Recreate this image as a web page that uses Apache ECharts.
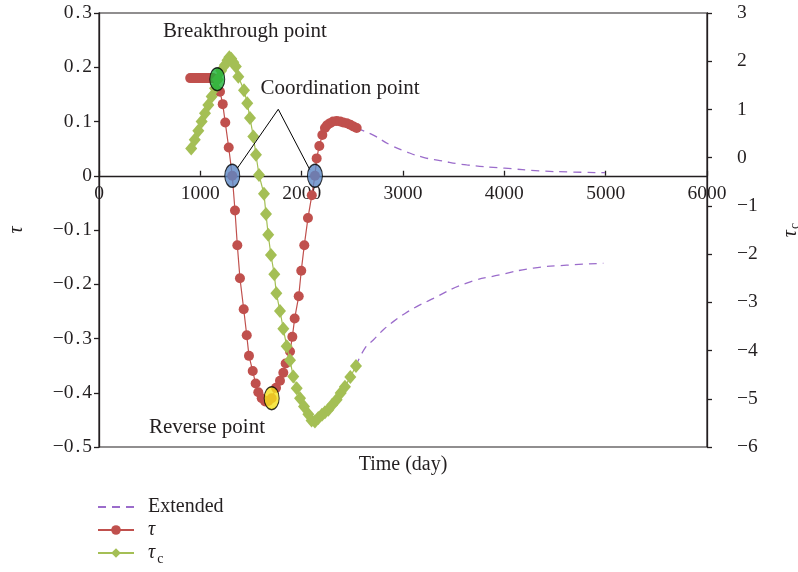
<!DOCTYPE html>
<html>
<head>
<meta charset="utf-8">
<script src="https://cdn.jsdelivr.net/npm/echarts@6/dist/echarts.min.js"></script>
<style>html,body{margin:0;padding:0;background:#fff}#c{width:798px;height:572px}</style>
</head>
<body>
<div id="c"></div>
<script>
// ---- data (time in days) ----
const tauData = [
  [900,0.180],[920,0.180],[940,0.180],[960,0.180],[980,0.180],[1000,0.180],[1020,0.180],
  [1040,0.180],[1060,0.180],[1080,0.180],[1100,0.180],[1120,0.180],[1140,0.179],[1167,0.178],
  [1194,0.155],[1221,0.132],[1246,0.098],[1280,0.052],[1315,0.000],[1342,-0.064],[1365,-0.128],
  [1391,-0.189],[1428,-0.246],[1458,-0.294],[1480,-0.332],[1517,-0.360],[1546,-0.383],[1572,-0.399],
  [1606,-0.410],[1640,-0.416],[1670,-0.415],[1704,-0.410],[1747,-0.391],[1786,-0.378],[1819,-0.363],
  [1842,-0.346],[1885,-0.324],[1908,-0.297],[1931,-0.263],[1971,-0.222],[1996,-0.175],[2026,-0.128],
  [2062,-0.078],[2100,-0.036],[2131,0.000],[2148,0.032],[2174,0.055],[2204,0.075],[2230,0.088],
  [2250,0.093],[2280,0.097],[2310,0.100],[2346,0.101],[2380,0.100],[2410,0.098],[2444,0.097],
  [2480,0.094],[2510,0.091],[2543,0.088]
];
const tauCData = [
  [910,0.19],[945,0.37],[980,0.56],[1013,0.75],[1046,0.92],[1079,1.09],[1112,1.27],[1145,1.44],
  [1170,1.62],[1205,1.80],[1243,1.92],[1268,2.02],[1286,2.08],[1305,2.05],[1325,1.98],[1350,1.89],
  [1375,1.68],[1431,1.40],[1463,1.13],[1490,0.82],[1523,0.44],[1549,0.06],[1579,-0.36],[1628,-0.75],
  [1648,-1.17],[1670,-1.60],[1697,-2.02],[1730,-2.42],[1750,-2.81],[1786,-3.18],[1819,-3.55],
  [1852,-3.91],[1885,-4.20],[1917,-4.54],[1951,-4.78],[1984,-4.99],[2023,-5.16],[2066,-5.32],
  [2098,-5.45],[2131,-5.47],[2164,-5.40],[2200,-5.33],[2230,-5.28],[2263,-5.23],[2300,-5.13],
  [2345,-5.02],[2385,-4.88],[2427,-4.75],[2480,-4.55],[2536,-4.32]
];
const extTau = [
  [2543,0.088],[2592,0.084],[2707,0.075],[2872,0.057],[3036,0.044],[3200,0.034],[3365,0.028],
  [3628,0.020],[4003,0.014],[4352,0.009],[4650,0.007],[4993,0.0056]
];
const extTauC = [
  [2536,-4.32],[2625,-3.95],[2707,-3.78],[2806,-3.57],[2904,-3.40],[3020,-3.23],[3135,-3.09],
  [3250,-2.97],[3628,-2.60],[3957,-2.43],[4286,-2.29],[4615,-2.23],[4977,-2.19]
];
// annotation points on the τ axis: [time, τ]
const breakthroughPt = [1167, 0.178];
const coordinationPts = [[1315, 0.0], [2131, 0.0]];
const reversePt = [1704, -0.410];
const calloutLine = [[1365, 0.0138], [1769, 0.1225], [2082, 0.0106]];
const xTicks = {min: 0, max: 6000, step: 1000};
const tauTicks = {min: -0.5, max: 0.3, step: 0.1};
const tauCTicks = {min: -6, max: 3, step: 1};

const FONT = "'Liberation Serif','Times New Roman',serif";
const AX = '#231f20';
const TXT = '#231f20';
const RED = '#c0504d', GREEN = '#a4bf55', PURPLE = '#9b6ccb';
const GRID_TOP = 13, GRID_BOTTOM = 125, H = 572;
const plotH = H - GRID_TOP - GRID_BOTTOM;
// shift x axis up to τ = 0
const xOffset = -plotH * (0 - tauTicks.min) / (tauTicks.max - tauTicks.min);

const chart = echarts.init(document.getElementById('c'), null, {renderer: 'canvas'});
const minus = s => String(s).replace('-', '\u2212');
const tauLabel = v => {
  const s = minus(Math.round(v * 10) / 10);
  return s.indexOf('.') >= 0 ? s.replace('.', '{p|.}') : s;
};
const subRich = {
  i: {fontFamily: FONT, fontSize: 20, fontStyle: 'italic', color: TXT},
  s: {fontFamily: FONT, fontSize: 14, color: TXT, padding: [9, 0, 0, 1]}
};

chart.setOption({
  animation: false,
  backgroundColor: '#fff',
  grid: {left: 99, right: 91, top: GRID_TOP, bottom: GRID_BOTTOM, containLabel: false, outerBoundsMode: 'none',
         show: true, borderColor: AX, borderWidth: 1.2, backgroundColor: 'transparent'},
  legend: {
    data: ['Extended', 'τ', 'τc'].map(n => n === 'Extended'
      ? {name: n, itemStyle: {color: 'rgba(0,0,0,0)', borderWidth: 0, opacity: 0}} : {name: n}),
    orient: 'vertical', left: 97, top: 497, height: 75, padding: 0, itemGap: 3, itemWidth: 36, itemHeight: 12,
    textStyle: {
      fontFamily: FONT, fontSize: 20, color: TXT, padding: [0, 0, 0, 9],
      rich: {
        i: {fontFamily: FONT, fontSize: 20, fontStyle: 'italic', color: TXT},
        s: {fontFamily: FONT, fontSize: 14, color: TXT, padding: [12, 0, 0, 2]}
      }
    },
    formatter: n => n === 'τ' ? '{i|τ}' : (n === 'τc' ? '{i|τ}{s|c}' : n)
  },
  xAxis: {
    type: 'value', min: xTicks.min, max: xTicks.max, interval: xTicks.step,
    position: 'bottom', offset: xOffset,
    axisLine: {show: true, onZero: false, lineStyle: {color: AX, width: 1.3}},
    axisTick: {show: true, inside: true, length: 5, lineStyle: {color: AX, width: 1.3}},
    axisLabel: {margin: 8, fontFamily: FONT, fontSize: 19.5, color: TXT, formatter: v => String(v),
                showMinLabel: true, showMaxLabel: true, hideOverlap: false},
    splitLine: {show: false}
  },
  yAxis: [
    {
      type: 'value', position: 'left', min: tauTicks.min, max: tauTicks.max, interval: tauTicks.step,
      name: 'τ', nameLocation: 'middle', nameGap: 72, nameMoveOverlap: false,
      nameTextStyle: {fontFamily: FONT, fontSize: 20, fontStyle: 'italic', color: TXT},
      axisLine: {show: true, onZero: false, lineStyle: {color: AX, width: 1.3}},
      axisTick: {show: true, inside: false, length: 5, lineStyle: {color: AX, width: 1.3}},
      axisLabel: {margin: 7, fontFamily: FONT, fontSize: 19.5, color: TXT, formatter: tauLabel,
        rich: {p: {fontFamily: FONT, fontSize: 19.5, color: TXT, padding: [0, 2, 0, 2]}}},
      splitLine: {show: false}
    },
    {
      type: 'value', position: 'right', min: tauCTicks.min, max: tauCTicks.max, interval: tauCTicks.step,
      name: '{i|τ}{s|c}', nameLocation: 'middle', nameGap: 72, nameMoveOverlap: false,
      nameTextStyle: {fontFamily: FONT, fontSize: 20, color: TXT, rich: subRich},
      axisLine: {show: true, onZero: false, lineStyle: {color: AX, width: 1.3}},
      axisTick: {show: true, inside: false, length: 5, lineStyle: {color: AX, width: 1.3}},
      axisLabel: {margin: 30, fontFamily: FONT, fontSize: 19.5, color: TXT, formatter: v => minus(v)},
      splitLine: {show: false}
    }
  ],
  graphic: [
    {type: 'text', x: 245, y: 31, style: {text: 'Breakthrough point', font: '21px ' + FONT, fill: TXT, textAlign: 'center', textVerticalAlign: 'middle'}},
    {type: 'text', x: 340, y: 88, style: {text: 'Coordination point', font: '21px ' + FONT, fill: TXT, textAlign: 'center', textVerticalAlign: 'middle'}},
    {type: 'text', x: 207, y: 427, style: {text: 'Reverse point', font: '21px ' + FONT, fill: TXT, textAlign: 'center', textVerticalAlign: 'middle'}},
    {type: 'text', x: 403, y: 465, style: {text: 'Time (day)', font: '20px ' + FONT, fill: TXT, textAlign: 'center', textVerticalAlign: 'middle'}}
  ],
  series: [
    {name: 'Extended', type: 'line', yAxisIndex: 0, data: extTau, smooth: true, symbol: 'none',
     lineStyle: {color: PURPLE, width: 1.3, type: [8, 6]}, itemStyle: {color: PURPLE}, z: 2},
    {name: 'Extended', type: 'line', yAxisIndex: 1, data: extTauC, smooth: true, symbol: 'none',
     lineStyle: {color: PURPLE, width: 1.3, type: [8, 6]}, itemStyle: {color: PURPLE}, z: 2},
    {name: 'τ', type: 'line', yAxisIndex: 0, data: tauData, symbol: 'circle', symbolSize: 10, showAllSymbol: true,
     lineStyle: {color: RED, width: 1.2}, itemStyle: {color: RED}, z: 3},
    {name: 'τc', type: 'line', yAxisIndex: 1, data: tauCData, symbol: 'diamond', symbolSize: [12, 14], showAllSymbol: true,
     lineStyle: {color: GREEN, width: 1.2}, itemStyle: {color: GREEN}, z: 4},
    {name: 'callout', type: 'line', yAxisIndex: 0, data: calloutLine, symbol: 'none',
     lineStyle: {color: '#000', width: 1}, z: 5, silent: true},
    {name: 'points', type: 'scatter', yAxisIndex: 0, symbol: 'circle', symbolSize: [15, 23], z: 6,
     itemStyle: {borderColor: '#000', borderWidth: 1.2},
     data: [
       {value: breakthroughPt, itemStyle: {color: '#1db33a'}},
       {value: coordinationPts[0], itemStyle: {color: '#5b87c5'}},
       {value: coordinationPts[1], itemStyle: {color: '#5b87c5'}},
       {value: reversePt, itemStyle: {color: '#f5e11b'}}
     ]}
  ]
});
</script>
</body>
</html>
